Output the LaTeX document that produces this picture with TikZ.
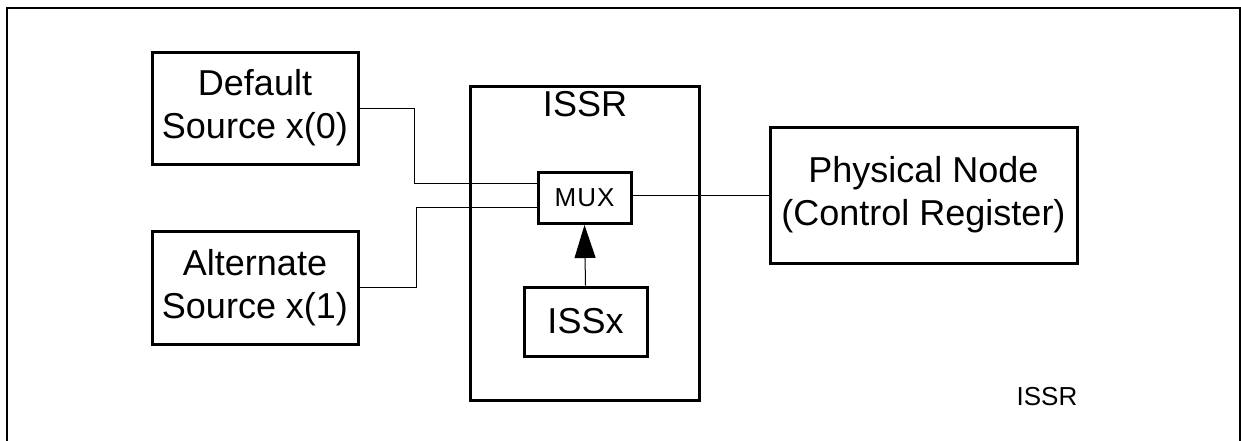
\documentclass[tikz,border=0pt]{standalone}
\usepackage{fontspec}
\setmainfont{Liberation Sans}
\usetikzlibrary{arrows.meta}
\begin{document}
\begin{tikzpicture}[x=1pt,y=-1pt,
  blk/.style={draw, line width=3pt, rectangle, inner sep=0pt, align=center,
    font=\fontsize{36}{43}\selectfont},
  wire/.style={line width=1pt},
]
\useasboundingbox (0,0) rectangle (1241,440);
% outer frame (bottom edge lies outside the picture)
\draw[line width=2pt] (7,445) -- (7,8) -- (1240,8) -- (1240,445);

\node[blk, minimum width=206pt, minimum height=112pt] (def) at (255,108) {Default\\Source x(0)};
\node[blk, minimum width=206pt, minimum height=113pt] (alt) at (255,287.5) {Alternate\\Source x(1)};
\node[blk, minimum width=229pt, minimum height=314pt] (issr) at (584.5,243) {};
\node[font=\fontsize{36}{43}\selectfont, inner sep=0pt] (issrlbl) at (585,104) {ISSR};
\node[blk, minimum width=93pt, minimum height=51pt, font=\fontsize{26}{30}\selectfont] (mux) at (584.5,198) {M\kern1pt U\kern1pt X};
\node[blk, minimum width=123pt, minimum height=69pt] (issx) at (585.5,321.5) {ISSx};
\node[blk, minimum width=307pt, minimum height=136pt] (phys) at (923.5,195) {Physical Node\\(Control Register)};
\node[font=\fontsize{26}{30}\selectfont, inner sep=0pt] (cap) at (1047,397) {ISSR};

\draw[wire] (def.east) -- (414,108) |- ([yshift=15pt]mux.west);
\draw[wire] (alt.east) -- (416,287.5) |- ([yshift=-9pt]mux.west);
\draw[wire, -{Triangle[length=33pt,width=21pt]}] (issx.north) -- (mux.south);
\draw[wire] ([yshift=3pt]mux.east) -- (phys.west);
\end{tikzpicture}
\end{document}
